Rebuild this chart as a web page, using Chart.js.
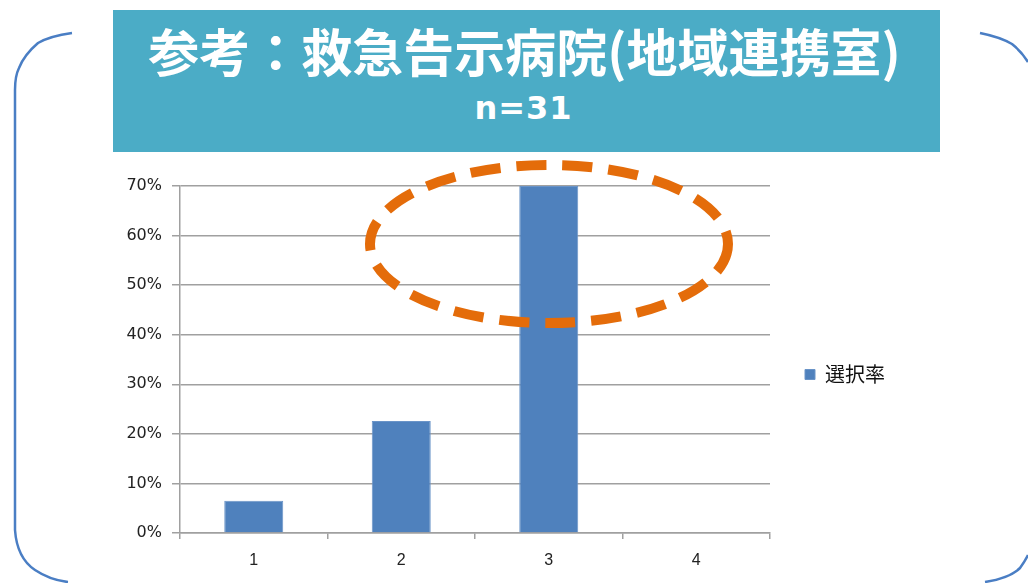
<!DOCTYPE html>
<html lang="ja">
<head>
<meta charset="utf-8">
<script src="https://cdn.jsdelivr.net/npm/chart.js@4.4.1/dist/chart.umd.min.js"></script>
<style>
  html, body { margin: 0; padding: 0; background: #fff; }
  #stage { position: relative; width: 1028px; height: 583px; overflow: hidden; }
  #frame, #mark { position: absolute; left: 0; top: 0; }
  #titleBox {
    position: absolute; left: 113px; top: 10px; width: 827px; height: 142px;
    background: #4BACC6; color: #fff; text-align: center;
    font-family: "Noto Sans CJK JP", "Noto Sans", sans-serif; font-weight: bold;
  }
  #titleMain { position: absolute; left: -4px; right: 0; top: 10px; font-size: 51px; line-height: 60px; }
  #titleSub { position: absolute; left: -6px; right: 0; top: 78px; font-family: "DejaVu Sans", sans-serif; font-size: 32px; line-height: 40px; letter-spacing: 1px; }
  #chartWrap { position: absolute; left: 0; top: 0; width: 1028px; height: 583px; }
</style>
</head>
<body>
<div id="stage">
  <svg id="frame" width="1028" height="583">
    <g fill="none" stroke="#4A7EC4" stroke-width="2.5">
      <path d="M72 33 Q50 36 38 43 Q24 55 19 68 Q15 76 15 90 L15 530 Q17 558 35 570 Q50 580 68 582"/>
      <path d="M980 33 Q1000 37 1012 44 Q1022 52 1028 62"/>
      <path d="M985 582 Q1010 578 1020 568 Q1025 561 1028 555"/>
    </g>
  </svg>
  <div id="titleBox">
    <div id="titleMain">参考：救急告示病院(地域連携室)</div>
    <div id="titleSub">n=31</div>
  </div>
  <div id="chartWrap"><canvas id="c" width="1028" height="583"></canvas></div>
  <svg id="mark" width="1028" height="583">
    <ellipse cx="549" cy="244" rx="179" ry="79" fill="none" stroke="#E46C0A" stroke-width="10" stroke-dasharray="30 16"/>
  </svg>
</div>
<script>
// 選択肢ごとの選択率
const categories = ['1', '2', '3', '4'];
const seriesName = '選択率';
const rates = [0.065, 0.226, 0.70, 0];
const yTicks = [0, 0.1, 0.2, 0.3, 0.4, 0.5, 0.6, 0.7];

const grey = '#A0A0A0';

// 凡例を少し上に寄せる
const legendNudge = {
  id: 'legendNudge',
  afterLayout(chart) {
    if (chart.legend) { chart.legend.top -= 5; chart.legend.bottom -= 5; }
  }
};

new Chart(document.getElementById('c'), {
  type: 'bar',
  data: {
    labels: categories,
    datasets: [{
      label: seriesName,
      data: rates,
      backgroundColor: '#4F81BD',
      borderColor: '#6A94C8',
      borderWidth: 1,
      categoryPercentage: 1,
      barPercentage: 0.4
    }]
  },
  plugins: [legendNudge],
  options: {
    responsive: false,
    animation: false,
    devicePixelRatio: 1,
    layout: { padding: { left: 120, top: 186, right: 133, bottom: 10 } },
    plugins: {
      tooltip: { enabled: false },
      legend: {
        position: 'right',
        labels: {
          boxWidth: 10, boxHeight: 10, padding: 35,
          color: '#111',
          font: { family: "'Noto Sans CJK JP', sans-serif", size: 20 }
        }
      }
    },
    scales: {
      x: {
        grid: { offset: true, drawOnChartArea: false, color: grey, tickLength: 6, lineWidth: 1.5 },
        border: { color: grey, width: 1.5 },
        ticks: { color: '#222', font: { family: "'Liberation Sans', sans-serif", size: 16 }, padding: 12 },
        afterFit: s => { s.height = 40; }
      },
      y: {
        min: 0, max: 0.7,
        afterBuildTicks: s => { s.ticks = yTicks.map(v => ({ value: v })); },
        grid: { color: grey, tickLength: 8, lineWidth: 1.5 },
        border: { color: grey, width: 1.5 },
        ticks: {
          color: '#222', padding: 10,
          font: { family: "'DejaVu Sans', sans-serif", size: 16 },
          callback: v => Math.round(v * 100) + '%'
        },
        afterFit: s => { s.width = 60; }
      }
    }
  }
});
</script>
</body>
</html>
